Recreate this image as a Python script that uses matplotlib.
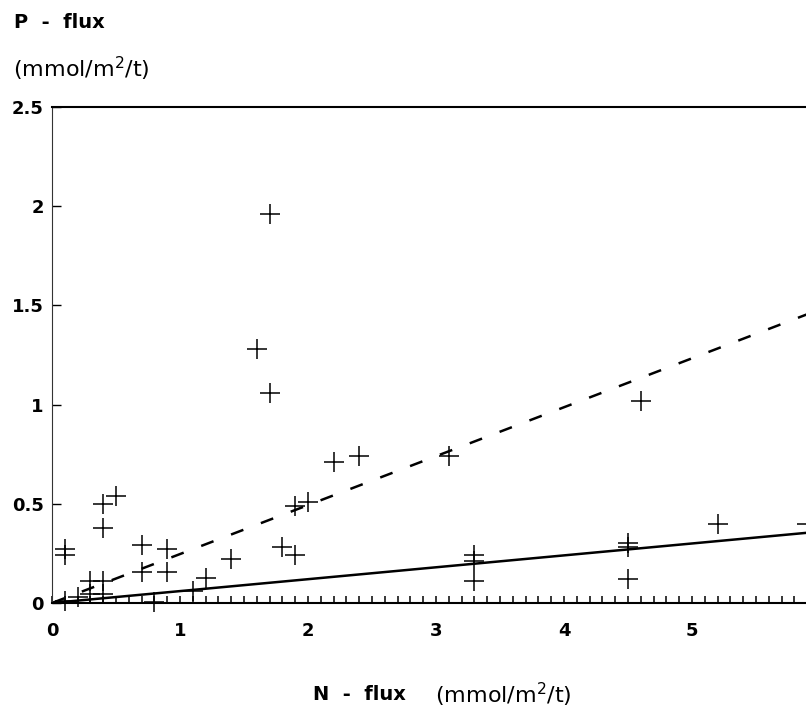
import matplotlib.pyplot as plt
from matplotlib.ticker import MultipleLocator

plt.rcParams['font.family'] = ['DejaVu Sans']
plt.rcParams['lines.scale_dashes'] = False

# N and P flux per station (mmol/m2/t)
n_flux = [0.1, 0.1, 0.1, 0.2, 0.3, 0.3, 0.4, 0.4, 0.4, 0.4, 0.5, 0.7, 0.7, 0.8,
          0.9, 0.9, 1.1, 1.2, 1.4, 1.6, 1.7, 1.7, 1.8, 1.9, 1.9, 2.0, 2.2, 2.4,
          3.1, 3.3, 3.3, 3.3, 4.5, 4.5, 4.5, 4.6, 5.2, 5.9]
p_flux = [0.27, 0.24, 0.01, 0.03, 0.11, 0.045, 0.11, 0.045, 0.38, 0.50, 0.54,
          0.29, 0.155, 0.005, 0.27, 0.155, 0.06, 0.125, 0.22, 1.28, 1.96, 1.06,
          0.28, 0.49, 0.24, 0.51, 0.71, 0.74, 0.74, 0.24, 0.21, 0.11, 0.30,
          0.28, 0.12, 1.02, 0.40, 0.40]

# regression lines
fit_n = [0, 6]
fit_p_solid = [0, 0.36]
fit_p_dashed = [0, 1.48]

fig = plt.figure(figsize=(8.06, 7.14), dpi=100)
ax = fig.add_axes([52 / 806, 111 / 714, 754 / 806, 496 / 714])

ax.plot(fit_n, fit_p_solid, color='black', lw=1.8)
ax.plot(fit_n, fit_p_dashed, color='black', lw=1.8, dashes=(9.5, 13.5))
ax.plot(n_flux, p_flux, '+', color='black', markersize=14, mew=1.1, clip_on=False)

ax.set_xlim(0, 754 / 128)
ax.set_ylim(0, 2.5)

ax.xaxis.set_major_locator(MultipleLocator(1))
ax.xaxis.set_minor_locator(MultipleLocator(0.1))
ax.yaxis.set_major_locator(MultipleLocator(0.5))
ax.yaxis.set_major_formatter(plt.FuncFormatter(lambda v, p: f"{v:g}"))
ax.xaxis.set_major_formatter(plt.FuncFormatter(lambda v, p: f"{v:g}"))

ax.tick_params(axis='x', which='both', direction='in', length=5, width=1.1,
               pad=14, labelsize=13)
ax.tick_params(axis='y', which='major', direction='in', length=6.5, width=1,
               pad=6, labelsize=13)
for lbl in ax.get_xticklabels() + ax.get_yticklabels():
    lbl.set_fontweight('bold')

ax.spines['right'].set_visible(False)
ax.spines['top'].set_linewidth(1.5)
ax.spines['bottom'].set_linewidth(1.5)
ax.spines['left'].set_linewidth(0.8)
ax.spines['left'].set_color('#333333')

fig.text(14 / 806, 1 - 22 / 714, "P  -  flux", fontsize=14, fontweight='bold',
         ha='left', va='center')
fig.text(13 / 806, 1 - 69 / 714, "(mmol/m$^2$/t)", fontsize=16,
         ha='left', va='center')
fig.text(313 / 806, 1 - 695 / 714, "N  -  flux", fontsize=14, fontweight='bold',
         ha='left', va='center')
fig.text(435 / 806, 1 - 695 / 714, "(mmol/m$^2$/t)", fontsize=16,
         ha='left', va='center')

plt.savefig("out.png", dpi=100)
plt.close()
